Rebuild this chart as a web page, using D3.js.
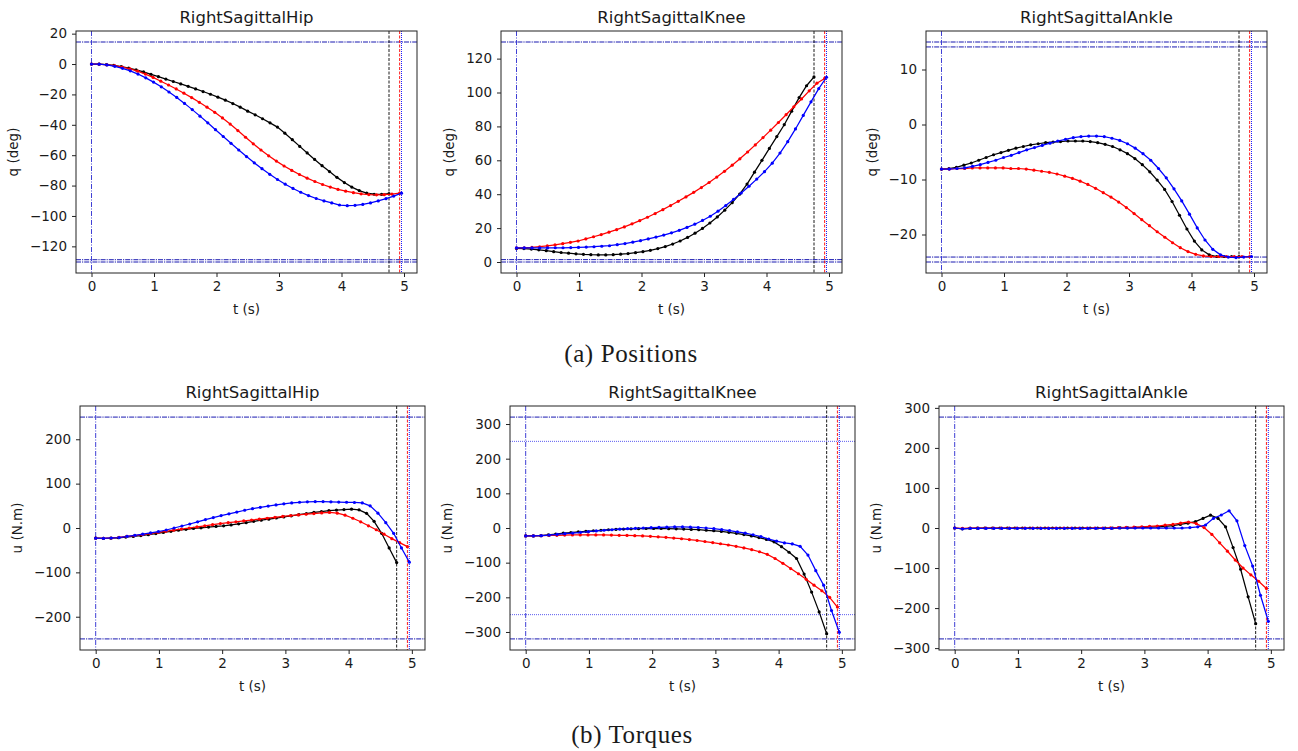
<!DOCTYPE html>
<html>
<head>
<meta charset="utf-8" />
<style>
  body { margin: 0; background: #fff; }
  svg { display: block; }
  text { font-family: "DejaVu Sans", sans-serif; fill: #1a1a1a; }
  .tick text { font-size: 13.5px; }
  .title { font-size: 16.5px; }
  .alabel { font-size: 13.5px; }
  .caption { font-family: "Liberation Serif", "DejaVu Serif", serif; font-size: 25px; letter-spacing: 0.6px; }
</style>
</head>
<body>
<svg id="fig" width="1298" height="751"></svg>
<script src="https://cdnjs.cloudflare.com/ajax/libs/d3/7.8.5/d3.min.js"></script>
<script>
// final time of each run (s); every run has 41 evenly spaced samples
var tEndBlack = 4.76, tEndRed = 4.93, tEndBlue = 4.96;
var nSamples = 41;

var titles = ['RightSagittalHip', 'RightSagittalKnee', 'RightSagittalAnkle'];
var xTicks = [0, 1, 2, 3, 4, 5];

// ---- joint positions q (deg)
var hipQBlack = [0, -0.1, -0.4, -0.9, -1.7, -2.7, -3.9, -5.2, -6.8, -8.3, -9.9, -11.5, -13.1, -14.7, -16.4, -18.1, -19.9, -21.8, -23.8, -26.0, -28.4, -31.0, -33.4, -36.0, -38.7, -41.5, -45.5, -49.8, -54.2, -58.5, -62.8, -66.9, -70.8, -74.6, -78.0, -81.0, -83.3, -84.9, -85.7, -85.8, -85.3];
var hipQRed = [0, -0.1, -0.5, -1.1, -2.0, -3.2, -4.7, -6.6, -8.8, -11.3, -13.8, -16.4, -19.2, -22.1, -25.2, -28.4, -31.8, -35.5, -39.5, -43.8, -48.2, -52.5, -56.6, -60.4, -63.9, -67.1, -70.0, -72.7, -75.1, -77.3, -79.3, -81.0, -82.5, -83.7, -84.7, -85.4, -85.9, -86.1, -86.0, -85.6, -85.0];
var hipQBlue = [0, -0.1, -0.6, -1.5, -2.8, -4.5, -6.6, -9.1, -11.9, -15.0, -18.4, -22.0, -25.9, -30.0, -34.3, -38.7, -43.2, -47.7, -52.2, -56.6, -60.9, -65.0, -68.9, -72.6, -76.0, -79.1, -81.9, -84.4, -86.6, -88.5, -90.1, -91.4, -92.8, -93.2, -93.0, -92.4, -91.4, -90.1, -88.6, -86.9, -85.0];
var hipQBounds = [14.5, -128.8, -130.3];
var hipQTicks = [-120, -100, -80, -60, -40, -20, 0, 20];

var kneeQBlack = [8.0, 7.9, 7.6, 7.2, 6.7, 6.1, 5.6, 5.2, 4.8, 4.5, 4.3, 4.2, 4.2, 4.3, 4.6, 5.0, 5.5, 6.1, 6.9, 7.9, 9.1, 10.6, 12.4, 14.5, 17.0, 19.8, 23.0, 26.6, 30.6, 35.0, 40.0, 46.0, 53.0, 60.0, 67.0, 74.0, 81.0, 89.0, 97.0, 104.0, 109.2];
var kneeQRed = [8.3, 8.4, 8.6, 9.0, 9.5, 10.1, 10.8, 11.6, 12.4, 13.6, 14.9, 16.2, 17.6, 19.1, 20.7, 22.5, 24.4, 26.4, 28.6, 30.9, 33.3, 35.8, 38.4, 41.1, 43.9, 46.9, 50.1, 53.5, 57.1, 60.9, 64.9, 69.1, 73.4, 77.8, 82.3, 86.9, 91.6, 96.2, 101.0, 105.5, 108.3];
var kneeQBlue = [8.3, 8.3, 8.3, 8.3, 8.3, 8.4, 8.4, 8.5, 8.6, 8.8, 9.0, 9.3, 9.6, 10.2, 10.9, 11.7, 12.6, 13.6, 14.7, 15.9, 17.2, 18.7, 20.4, 22.3, 24.5, 27.0, 30.0, 33.3, 36.9, 40.7, 44.7, 48.9, 53.3, 58.3, 64.3, 71.0, 78.5, 86.5, 94.5, 102.3, 109.0];
var kneeQBounds = [129.8, 1.4, 0];
var kneeQTicks = [0, 20, 40, 60, 80, 100, 120];

var ankleQBlack = [-8.1, -8.0, -7.8, -7.4, -7.0, -6.5, -6.0, -5.5, -5.1, -4.7, -4.3, -4.0, -3.7, -3.5, -3.3, -3.2, -3.1, -3.0, -3.0, -3.0, -3.1, -3.3, -3.6, -4.0, -4.6, -5.3, -6.2, -7.3, -8.6, -10.1, -11.8, -14.0, -16.5, -19.0, -21.2, -22.8, -23.7, -24.0, -24.0, -24.0, -24.0];
var ankleQRed = [-8.1, -8.1, -8.0, -8.0, -7.9, -7.9, -7.9, -7.9, -7.9, -8.0, -8.0, -8.1, -8.3, -8.5, -8.7, -9.0, -9.4, -9.8, -10.3, -10.9, -11.6, -12.4, -13.2, -14.1, -15.1, -16.2, -17.3, -18.4, -19.5, -20.5, -21.5, -22.4, -23.1, -23.6, -23.9, -24.0, -24.0, -24.0, -24.0, -24.0, -24.0];
var ankleQBlue = [-8.1, -8.1, -8.0, -7.9, -7.6, -7.3, -6.9, -6.5, -6.0, -5.6, -5.1, -4.6, -4.2, -3.8, -3.4, -3.0, -2.7, -2.4, -2.2, -2.1, -2.1, -2.2, -2.5, -2.9, -3.5, -4.3, -5.3, -6.5, -8.0, -9.7, -11.7, -13.9, -16.3, -18.8, -21.0, -22.7, -23.7, -24.1, -24.2, -24.1, -24.0];
var ankleQBounds = [15.0, 14.1, -24.1, -25.0];
var ankleQTicks = [-20, -10, 0, 10];

// ---- joint torques u (N.m)
var hipUBlack = [-23, -23.5, -23, -22, -20.5, -19, -17, -15, -12.5, -10, -7.5, -5, -3, -1, 0.5, 2, 3.5, 5, 7, 9.5, 12, 15, 17.5, 20, 22.5, 25, 27.5, 30, 32.5, 35, 37, 39, 40.5, 41.5, 42.5, 41, 33, 15, -12, -45, -78];
var hipURed = [-23, -23.5, -22.5, -21, -19, -17, -15, -12.5, -10, -7.5, -5, -2.5, 0, 2.5, 5, 7.5, 10, 12, 14, 16, 18, 20, 22, 24, 26, 28, 29.5, 31, 32.5, 34, 35, 33.5, 29, 22, 14, 5, -4, -14, -24, -33, -42];
var hipUBlue = [-23, -23.5, -22.5, -21.5, -19, -16.5, -14, -11, -8, -4.5, 0, 4.5, 9, 14, 19, 23.5, 28, 32, 36, 40, 43.5, 46.5, 49.5, 52, 54.5, 56.5, 58, 59, 59.5, 59.5, 59, 58.5, 58, 57.5, 56.5, 50, 33.5, 12, -12, -45, -77];
var hipUBounds = [250, -250];
var hipUTicks = [-200, -100, 0, 100, 200];

var kneeUBlack = [-23, -23, -22, -20, -17.5, -15, -13, -11, -9.5, -8, -6.5, -5, -4, -3, -2.5, -2, -1.5, -1.5, -1.5, -2, -2.5, -3, -4, -5, -6.5, -8, -10, -12.5, -15.5, -19, -23, -27.5, -33, -40, -54, -70, -88, -133, -185, -242, -305];
var kneeURed = [-23, -23, -22, -21.5, -21, -20.5, -20, -20, -20, -20, -20, -20.5, -21, -21.5, -22, -23, -24, -25.5, -27, -29, -31, -33.5, -36, -39, -42, -45.5, -49, -53, -57.5, -62.5, -68.5, -76, -88, -102, -117, -132, -148, -165, -181, -200, -228];
var kneeUBlue = [-23, -23, -22, -20.5, -18.5, -16.5, -14.5, -12.5, -10.5, -8.5, -6.5, -5, -3.5, -2, -1, 0, 1, 2, 2.5, 3, 3, 2.5, 1.5, 0, -2, -4.5, -7.5, -11, -15, -19.5, -24.5, -32, -38, -43, -46, -53, -78, -123, -165, -238, -301];
var kneeUBounds = [320, -320];
var kneeUSoftBounds = [250, -250];
var kneeUTicks = [-300, -200, -100, 0, 100, 200, 300];

var ankleUBlack = [0, -2, -1, -0.5, 0, 0, 0, 0, 0, 0, 0, 0, 0, 0, 0, 0, 0, 0, 0, 0, 0, 0, 0.5, 0.5, 1, 1.5, 2, 3, 4, 6, 9, 12, 16, 24, 32, 24, 3, -49, -103, -172, -239];
var ankleURed = [0, -1, 0, 0, 0, 0, 0, 0, 0, 0, 0, 0, 0, 0, 0, 0, 0, 0, 0, 0, 0.5, 1, 1.5, 2, 3, 4, 5, 7, 9, 12, 15, 11, 1, -16, -37, -58, -80, -100, -117, -133, -151];
var ankleUBlue = [0, -2, -1, -1, -1, -1, -1, -1, -1, -1, -1, -1, -1, -1, -1, -1, -1, -1, -1, -1, -1, 0, 0, 0, 0, 0, 0, 0, 0, 0, 1, 3, 7.5, 24, 32.5, 43, 18, -44, -95, -168, -233];
var ankleUBounds = [277, -277];
var ankleUTicks = [-300, -200, -100, 0, 100, 200, 300];

var captions = ['(a) Positions', '(b) Torques'];

// ---- panels
var panels = [
  {title: titles[0], ylabel: 'q (deg)', box: {x: 76, y: 31, w: 341, h: 242}, runs: [hipQBlack, hipQRed, hipQBlue], bounds: hipQBounds, soft: [], ticks: hipQTicks},
  {title: titles[1], ylabel: 'q (deg)', box: {x: 501, y: 31, w: 341, h: 242}, runs: [kneeQBlack, kneeQRed, kneeQBlue], bounds: kneeQBounds, soft: [], ticks: kneeQTicks},
  {title: titles[2], ylabel: 'q (deg)', box: {x: 926, y: 31, w: 341, h: 242}, runs: [ankleQBlack, ankleQRed, ankleQBlue], bounds: ankleQBounds, soft: [], ticks: ankleQTicks},
  {title: titles[0], ylabel: 'u (N.m)', box: {x: 80, y: 406, w: 345, h: 244}, runs: [hipUBlack, hipURed, hipUBlue], bounds: hipUBounds, soft: [], ticks: hipUTicks},
  {title: titles[1], ylabel: 'u (N.m)', box: {x: 510, y: 406, w: 345, h: 244}, runs: [kneeUBlack, kneeURed, kneeUBlue], bounds: kneeUBounds, soft: kneeUSoftBounds, ticks: kneeUTicks},
  {title: titles[2], ylabel: 'u (N.m)', box: {x: 939, y: 406, w: 345, h: 244}, runs: [ankleUBlack, ankleURed, ankleUBlue], bounds: ankleUBounds, soft: [], ticks: ankleUTicks}
];

var runEnds = [tEndBlack, tEndRed, tEndBlue];
var runColors = ['#000000', '#ff0000', '#0000ff'];

function pad(ext) {
  var m = (ext[1] - ext[0]) * 0.05;
  return [ext[0] - m, ext[1] + m];
}

var svg = d3.select('#fig');
var fmt = d3.format('d');

panels.forEach(function(p) {
  var b = p.box;
  var g = svg.append('g').attr('transform', 'translate(' + b.x + ',' + b.y + ')');

  var allY = p.bounds.concat(p.soft);
  p.runs.forEach(function(r) { allY = allY.concat(r); });

  var x = d3.scaleLinear().domain(pad([0, d3.max(runEnds)])).range([0, b.w]);
  var y = d3.scaleLinear().domain(pad(d3.extent(allY))).range([b.h, 0]);

  // reference lines: joint bounds, start and end times
  var ref = g.append('g');
  p.bounds.forEach(function(v) {
    ref.append('line').attr('x1', 0).attr('x2', b.w).attr('y1', y(v)).attr('y2', y(v))
      .attr('stroke', '#1818b0').attr('stroke-width', 1).attr('stroke-dasharray', '5,1,1.2,1');
  });
  p.soft.forEach(function(v) {
    ref.append('line').attr('x1', 0).attr('x2', b.w).attr('y1', y(v)).attr('y2', y(v))
      .attr('stroke', '#4848ee').attr('stroke-width', 0.9).attr('stroke-dasharray', '1,1');
  });
  ref.append('line').attr('x1', x(0)).attr('x2', x(0)).attr('y1', 0).attr('y2', b.h)
    .attr('stroke', '#2a2ad0').attr('stroke-width', 0.9).attr('stroke-dasharray', '5,1.5,1,1.5');
  runEnds.forEach(function(t, i) {
    ref.append('line').attr('x1', x(t)).attr('x2', x(t)).attr('y1', 0).attr('y2', b.h)
      .attr('stroke', runColors[i]).attr('stroke-width', 0.9)
      .attr('stroke-dasharray', i === 2 ? '1,1' : '3,1.5');
  });

  // data runs
  p.runs.forEach(function(vals, i) {
    var dt = runEnds[i] / (nSamples - 1);
    var pts = vals.map(function(v, k) { return [k * dt, v]; });
    var line = d3.line().x(function(d) { return x(d[0]); }).y(function(d) { return y(d[1]); });
    g.append('path').datum(pts).attr('d', line)
      .attr('fill', 'none').attr('stroke', runColors[i]).attr('stroke-width', 1.25);
    g.append('g').selectAll('circle').data(pts).enter().append('circle')
      .attr('cx', function(d) { return x(d[0]); })
      .attr('cy', function(d) { return y(d[1]); })
      .attr('r', 1.6).attr('fill', runColors[i]);
  });

  // frame
  g.append('rect').attr('width', b.w).attr('height', b.h)
    .attr('fill', 'none').attr('stroke', '#222').attr('stroke-width', 1);

  // axes
  var xa = g.append('g').attr('transform', 'translate(0,' + b.h + ')')
    .call(d3.axisBottom(x).tickValues(xTicks).tickFormat(fmt).tickSize(4).tickPadding(4));
  var ya = g.append('g')
    .call(d3.axisLeft(y).tickValues(p.ticks).tickFormat(fmt).tickSize(4).tickPadding(5));
  [xa, ya].forEach(function(a) {
    a.select('.domain').remove();
    a.selectAll('.tick line').attr('stroke', '#222');
    a.selectAll('.tick text').attr('fill', '#1a1a1a').attr('font-family', null).attr('font-size', null);
  });
  var yw = ya.node().getBBox().width;

  g.append('text').attr('class', 'title').attr('x', b.w / 2).attr('y', -8)
    .attr('text-anchor', 'middle').text(p.title);
  g.append('text').attr('class', 'alabel').attr('x', b.w / 2).attr('y', b.h + 41)
    .attr('text-anchor', 'middle').text('t (s)');
  g.append('text').attr('class', 'alabel')
    .attr('transform', 'translate(' + (-(yw + 12)) + ',' + (b.h / 2) + ') rotate(-90)')
    .attr('text-anchor', 'middle').text(p.ylabel);
});

svg.append('text').attr('class', 'caption').attr('x', 631).attr('y', 362)
  .attr('text-anchor', 'middle').text(captions[0]);
svg.append('text').attr('class', 'caption').attr('x', 632).attr('y', 743)
  .attr('text-anchor', 'middle').text(captions[1]);
</script>
</body>
</html>
